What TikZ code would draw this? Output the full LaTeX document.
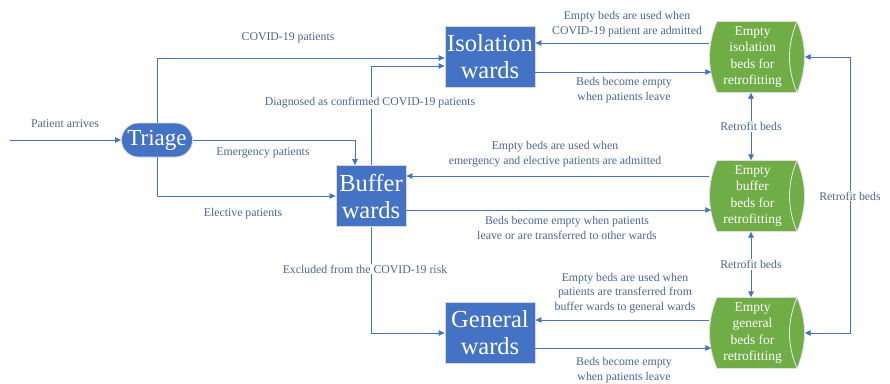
\documentclass[tikz,border=0pt]{standalone}
\usepackage{fontspec}
\setmainfont{Liberation Serif}
\usetikzlibrary{arrows.meta}
\definecolor{nodeblue}{RGB}{68,114,196}
\definecolor{lineblue}{RGB}{68,114,196}
\definecolor{txtblue}{RGB}{72,102,148}
\definecolor{cylgreen}{RGB}{112,173,71}
\newcommand\drawcyl[1]{%
  \begin{scope}[shift={#1}]
    \fill[cylgreen] (-40,-35.5) .. controls (-50,-12) and (-50,12) .. (-40,35.5) -- (40,35.5) .. controls (50,12) and (50,-12) .. (40,-35.5) -- cycle;
    \draw[gray!25, line width=0.8pt] (-40,-35.5) .. controls (-50,-12) and (-50,12) .. (-40,35.5) -- (40,35.5) .. controls (50,12) and (50,-12) .. (40,-35.5) -- cycle;
    \draw[white!85!gray, line width=0.8pt] (40,-35.5) .. controls (30,-12) and (30,12) .. (40,35.5);
  \end{scope}}
\begin{document}
\begin{tikzpicture}[x=1pt,y=-1pt,
  ward/.style={draw=gray!30, line width=0.8pt, fill=nodeblue, text=white, font=\fontsize{24.5}{27}\selectfont, align=center, inner sep=0pt, minimum width=90pt, minimum height=61pt},
  cyl/.style={inner sep=0pt, minimum width=95pt, minimum height=71pt},
  cyltext/.style={text=white, font=\fontsize{13.5}{16.2}\selectfont, align=center, inner sep=0pt},
  conn/.style={draw=lineblue, line width=0.9pt, -{Triangle[length=6pt,width=5.5pt]}},
  conn2/.style={draw=lineblue, line width=0.9pt, {Triangle[length=6pt,width=5.5pt]}-{Triangle[length=6pt,width=5.5pt]}},
  lbl/.style={text=txtblue, fill=white, font=\fontsize{11.8}{14.5}\selectfont, align=center, inner sep=1pt}]
\useasboundingbox (0,0) rectangle (890,383);
% cylinders backgrounds
\drawcyl{(757,57)}
\drawcyl{(757,196)}
\drawcyl{(757,333)}
% nodes
\node[draw=gray!30, line width=0.8pt, fill=nodeblue, text=white, rounded corners=17pt, minimum width=71pt, minimum height=34pt, inner sep=0pt, font=\fontsize{23}{25}\selectfont] (tri) at (157,140) {Triage};
\node[ward] (iso) at (490,57) {Isolation\\wards};
\node[ward, minimum width=70pt] (buf) at (371,196) {Buffer\\wards};
\node[ward] (gen) at (490,333) {General\\wards};
\node[cyl] (ci) at (757,57) {};
\node[cyl] (cb) at (757,196) {};
\node[cyl] (cg) at (757,333) {};
\node[cyltext] (cit) at (752.5,57) {Empty\\isolation\\beds for\\retrofitting};
\node[cyltext] (cbt) at (752.5,196) {Empty\\buffer\\beds for\\retrofitting};
\node[cyltext] (cgt) at (752.5,333) {Empty\\general\\beds for\\retrofitting};
\coordinate (start) at (10,140);
\coordinate (rt) at (850,196);
% connectors
\draw[conn] (start) -- (tri.west);
\draw[conn] (tri.north) |- ([yshift=-1pt]iso.west);
\draw[conn] (buf.north) |- ([yshift=-9pt]iso.west);
\draw[conn] (tri.east) -| ([xshift=-16pt]buf.north);
\draw[conn] (tri.south) |- (buf.west);
\draw[conn] (buf.south) |- (gen.west);
\draw[conn] ([yshift=14pt]ci.west) -- ([yshift=14pt]iso.east);
\draw[conn] ([yshift=-15pt]iso.east) -- ([xshift=2pt,yshift=-15pt]ci.west);
\draw[conn] ([yshift=20pt]cb.west) -- ([yshift=20pt]buf.east);
\draw[conn] ([yshift=-14pt]buf.east) -- ([xshift=2pt,yshift=-14pt]cb.west);
\draw[conn] ([yshift=13pt]cg.west) -- ([yshift=13pt]gen.east);
\draw[conn] ([yshift=-15pt]gen.east) -- ([xshift=2pt,yshift=-15pt]cg.west);
\draw[conn2] ([xshift=-6pt]ci.south) -- ([xshift=-6pt]cb.north) node[midway, lbl] (r1) {Retrofit beds};
\draw[conn2] ([xshift=-6pt]cb.south) -- ([xshift=-6pt]cg.north) node[midway, lbl] (r2) {Retrofit beds};
\draw[conn2] (ci.east) -| (rt) |- (cg.east);
\node[lbl] (r3) at (rt) {Retrofit beds};
% labels
\node[lbl] (l1) at (65,124) {Patient arrives};
\node[lbl] (l2) at (288,38) {COVID-19 patients};
\node[lbl] (l3) at (370,103) {Diagnosed as confirmed COVID-19 patients};
\node[lbl] (l4) at (263,153) {Emergency patients};
\node[lbl] (l5) at (243,214) {Elective patients};
\node[lbl] (l6) at (365,269) {Excluded from the COVID-19 risk};
\node[lbl] (l7) at (627,24) {Empty beds are used when\\COVID-19 patient are admitted};
\node[lbl] (l8) at (624,90) {Beds become empty\\when patients leave};
\node[lbl] (l9) at (555,154) {Empty beds are used when\\emergency and elective patients are admitted};
\node[lbl] (l10) at (567,228) {Beds become empty when patients\\leave or are transferred to other wards};
\node[lbl] (l11) at (625,293) {Empty beds are used when\\patients are transferred from\\buffer wards to general wards};
\node[lbl] (l12) at (624,370) {Beds become empty\\when patients leave};
\end{tikzpicture}
\end{document}
